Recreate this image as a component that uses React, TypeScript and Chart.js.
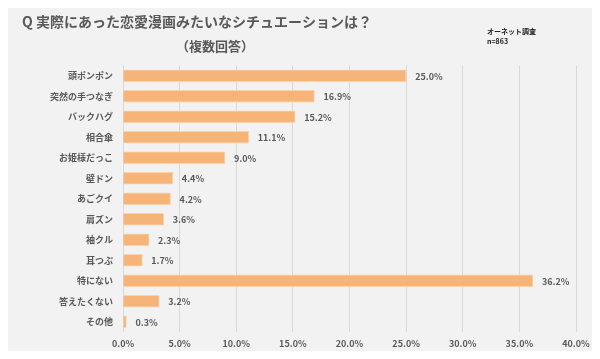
import React, { useEffect, useRef } from "react";
import { Chart, registerables } from "chart.js";

Chart.register(...registerables);

const categories = [
  "頭ポンポン",
  "突然の手つなぎ",
  "バックハグ",
  "相合傘",
  "お姫様だっこ",
  "壁ドン",
  "あごクイ",
  "肩ズン",
  "袖クル",
  "耳つぶ",
  "特にない",
  "答えたくない",
  "その他",
];
const values = [25.0, 16.9, 15.2, 11.1, 9.0, 4.4, 4.2, 3.6, 2.3, 1.7, 36.2, 3.2, 0.3];
const titleText = "Q 実際にあった恋愛漫画みたいなシチュエーションは？";
const subtitleText = "（複数回答）";
const sourceLines = ["オーネット調査", "n=863"];

const FONT = "'Noto Sans CJK JP', 'Noto Sans', sans-serif";
const GRAY = "#595959";

const textPlugin = {
  id: "texts",
  afterDraw(chart: any) {
    const ctx = chart.ctx;
    ctx.save();
    ctx.fillStyle = GRAY;
    ctx.textBaseline = "middle";
    ctx.textAlign = "left";
    ctx.font = `bold 14px ${FONT}`;
    ctx.fillText(titleText, 22, 22);
    ctx.textAlign = "center";
    ctx.font = `bold 13px ${FONT}`;
    ctx.fillText(subtitleText, 215, 46);
    ctx.textAlign = "left";
    ctx.fillStyle = "#222";
    ctx.font = `bold 7px ${FONT}`;
    ctx.fillText(sourceLines[0], 487, 31);
    ctx.fillText(sourceLines[1], 487, 41);
    // data labels
    const meta = chart.getDatasetMeta(0);
    ctx.fillStyle = GRAY;
    ctx.font = `bold 9px ${FONT}`;
    meta.data.forEach((bar: any, i: number) => {
      ctx.fillText(values[i].toFixed(1) + "%", bar.x + 9, bar.y + 0.5);
    });
    ctx.restore();
  },
};

const bgPlugin = {
  id: "bg",
  beforeDraw(chart: any) {
    const ctx = chart.ctx;
    ctx.save();
    ctx.fillStyle = "#f2f2f2";
    ctx.fillRect(0, 0, chart.width, chart.height);
    ctx.restore();
  },
};

export default function App() {
  const ref = useRef<HTMLCanvasElement>(null);
  useEffect(() => {
    if (!ref.current) return;
    const chart = new Chart(ref.current, {
      type: "bar",
      data: {
        labels: categories,
        datasets: [
          {
            data: values,
            backgroundColor: "#f6b478",
            borderColor: "#fbd3aa",
            borderWidth: 1,
            barThickness: 12,
          },
        ],
      },
      options: {
        indexAxis: "y",
        animation: false,
        responsive: false,
        maintainAspectRatio: false,
        layout: { padding: { top: 65.5, right: 24, left: 0, bottom: 0 } },
        plugins: { legend: { display: false }, tooltip: { enabled: false } },
        scales: {
          x: {
            min: 0,
            max: 40,
            ticks: {
              stepSize: 5,
              padding: 6,
              color: GRAY,
              font: { family: FONT, size: 9, weight: "bold" },
              callback: (v: any) => Number(v).toFixed(1) + "%",
            },
            grid: { color: "#d9d9d9", drawTicks: false, lineWidth: 1 },
            border: { display: false },
            afterFit: (s: any) => {
              s.height = 27;
            },
          },
          y: {
            ticks: {
              padding: 10,
              color: GRAY,
              font: { family: FONT, size: 9, weight: "bold" },
            },
            grid: { display: false, drawTicks: false },
            border: { display: false },
            afterFit: (s: any) => {
              s.width = 123;
            },
          },
        },
      } as any,
      plugins: [bgPlugin, textPlugin],
    });
    return () => chart.destroy();
  }, []);
  return (
    <div style={{ width: 600, height: 359, margin: -8 }}>
      <canvas ref={ref} width={600} height={359} style={{ display: "block" }} />
    </div>
  );
}
